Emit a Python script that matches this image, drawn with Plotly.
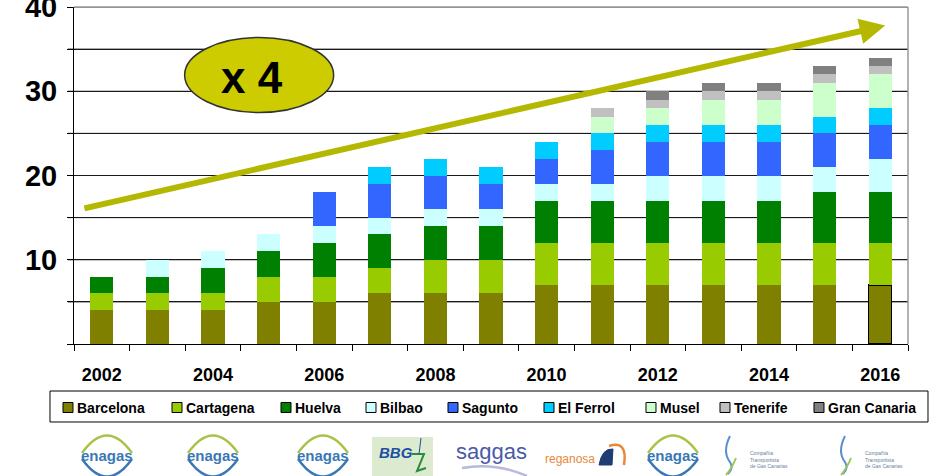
import plotly.graph_objects as go

# ---------------- data ----------------
years = [2002, 2003, 2004, 2005, 2006, 2007, 2008, 2009, 2010, 2011, 2012, 2013, 2014, 2015, 2016]
year_labels = ["2002", "", "2004", "", "2006", "", "2008", "", "2010", "", "2012", "", "2014", "", "2016"]

barcelona    = [4, 4, 4, 5, 5, 6, 6, 6, 7, 7, 7, 7, 7, 7, 7]
cartagena    = [2, 2, 2, 3, 3, 3, 4, 4, 5, 5, 5, 5, 5, 5, 5]
huelva       = [2, 2, 3, 3, 4, 4, 4, 4, 5, 5, 5, 5, 5, 6, 6]
bilbao       = [0, 2, 2, 2, 2, 2, 2, 2, 2, 2, 3, 3, 3, 3, 4]
sagunto      = [0, 0, 0, 0, 4, 4, 4, 3, 3, 4, 4, 4, 4, 4, 4]
el_ferrol    = [0, 0, 0, 0, 0, 2, 2, 2, 2, 2, 2, 2, 2, 2, 2]
musel        = [0, 0, 0, 0, 0, 0, 0, 0, 0, 2, 2, 3, 3, 4, 4]
tenerife     = [0, 0, 0, 0, 0, 0, 0, 0, 0, 1, 1, 1, 1, 1, 1]
gran_canaria = [0, 0, 0, 0, 0, 0, 0, 0, 0, 0, 1, 1, 1, 1, 1]

series_names = ["Barcelona", "Cartagena", "Huelva", "Bilbao", "Sagunto",
                "El Ferrol", "Musel", "Tenerife", "Gran Canaria"]
series_values = [barcelona, cartagena, huelva, bilbao, sagunto,
                 el_ferrol, musel, tenerife, gran_canaria]
series_colors = ["#808000", "#99CC00", "#008000", "#CCFFFF", "#3366FF",
                 "#00CCFF", "#CCFFCC", "#C0C0C0", "#808080"]

y_ticks = [0, 5, 10, 15, 20, 25, 30, 35, 40]
y_tick_text = ["", "", "10", "", "20", "", "30", "", "40"]

arrow_text = "x 4"
logo_names = ["enagas", "enagas", "enagas", "BBG", "saggas", "reganosa", "enagas",
              "Compañía<br>Transportista<br>de Gas Canarias", "Compañía<br>Transportista<br>de Gas Canarias"]

# ---------------- geometry helpers ----------------
FIG_W, FIG_H = 929, 476
L, R, T, B = 74, 21, 7, 132
PW = FIG_W - L - R
PH = FIG_H - T - B


def px(x):
    return round((x - L) / PW, 5)


def py(y):
    return round((FIG_H - B - y) / PH, 5)


FONT = "Arial, Liberation Sans, Helvetica, sans-serif"
GRID = "#1a1a1a"

fig = go.Figure()

for i, (name, vals, col) in enumerate(zip(series_names, series_values, series_colors)):
    lw = [0] * len(vals)
    if i == 0:
        lw[-1] = 1.5
    fig.add_trace(go.Bar(
        x=years, y=vals, name=name,
        marker=dict(color=col, line=dict(color="black", width=lw)),
        showlegend=False, hoverinfo="skip",
    ))

half = 0.5
boundaries = [y - half for y in years] + [years[-1] + half]
xr = [years[0] - half, years[-1] + half]

fig.update_layout(
    width=FIG_W, height=FIG_H,
    margin=dict(l=L, r=R, t=T, b=B, autoexpand=False),
    paper_bgcolor="white", plot_bgcolor="white",
    barmode="stack", bargap=0.586,
    font=dict(family=FONT, color="black"),
    xaxis=dict(range=xr, tickvals=years, ticktext=year_labels, ticks="",
               minor=dict(tickvals=boundaries, ticks="outside", ticklen=6,
                          tickcolor="black", tickwidth=1, showgrid=False),
               showgrid=False, zeroline=False, showline=True, linecolor="black", linewidth=1,
               tickfont=dict(size=18, family=FONT, color="black", weight="bold"),
               ticklabelstandoff=14, automargin=False, fixedrange=True),
    yaxis=dict(range=[0, 40], tickvals=y_ticks, ticktext=y_tick_text, ticks="outside",
               ticklen=6, tickcolor="black", tickwidth=1,
               showgrid=True, gridcolor=GRID, gridwidth=1, zeroline=False,
               showline=True, linecolor="black", linewidth=1,
               tickfont=dict(size=29, family=FONT, color="black", weight="bold"),
               ticklabelstandoff=4, ticklabeloverflow="allow",
               automargin=False, fixedrange=True),
    showlegend=False,
)

shapes = []
annotations = []

# gridlines / left ticks reinforced from the same tick list (drawn under the bars)
for v in y_ticks[1:]:
    shapes.append(dict(type="line", xref="paper", yref="y", x0=0, x1=1, y0=v, y1=v,
                       line=dict(color=GRID, width=1), layer="below"))
    shapes.append(dict(type="line", xref="paper", yref="y", x0=-6 / PW, x1=0, y0=v, y1=v,
                       line=dict(color="black", width=1)))

# grey plot border (top/right)
shapes.append(dict(type="line", xref="paper", yref="paper", x0=0, x1=1, y0=1, y1=1,
                   line=dict(color="#999999", width=1.5)))
shapes.append(dict(type="line", xref="paper", yref="paper", x0=1, x1=1, y0=0, y1=1,
                   line=dict(color="#999999", width=1.5)))

# ellipse with "x 4"
shapes.append(dict(type="circle", xref="x", yref="y", x0=2003.49, x1=2006.17, y0=27.48, y1=36.38,
                   fillcolor="#CCCC00", line=dict(color="#333333", width=1.5), layer="above"))
annotations.append(dict(x=2004.70, y=31.6, xref="x", yref="y", text=arrow_text, showarrow=False,
                        font=dict(size=44, family=FONT, color="black", weight="bold"),
                        xanchor="center", yanchor="middle"))

# growth arrow
annotations.append(dict(x=2016.09, y=37.8, ax=2001.66, ay=16.05, xref="x", yref="y",
                        axref="x", ayref="y", text="", showarrow=True, arrowhead=2,
                        arrowsize=0.85, arrowwidth=6, arrowcolor="#B4B800", standoff=0))

# ---------------- custom legend ----------------
shapes.append(dict(type="rect", xref="paper", yref="paper", x0=px(50), x1=px(928),
                   y0=py(422), y1=py(391), line=dict(color="black", width=1), fillcolor="white"))
swatch_left = [63, 172, 281, 366, 448, 544, 646, 720, 814]
for sx, name, col in zip(swatch_left, series_names, series_colors):
    shapes.append(dict(type="rect", xref="paper", yref="paper", x0=px(sx), x1=px(sx + 10),
                       y0=py(412.5), y1=py(402.5), fillcolor=col,
                       line=dict(color="black", width=1)))
    annotations.append(dict(x=px(sx + 12), y=py(407.5), xref="paper", yref="paper", text=name,
                            showarrow=False, xanchor="left", yanchor="middle",
                            font=dict(size=14, family=FONT, color="black", weight="bold")))

# ---------------- logos (approximated as text + strokes) ----------------
ENAGAS_BLUE = "#3A78B5"
ENAGAS_GREEN = "#A9C34A"


def enagas(cx, cy=456):
    shapes.append(dict(type="path", xref="paper", yref="paper",
                       path=f"M {px(cx-25)},{py(cy-3)} Q {px(cx)},{py(cy-38)} {px(cx+25)},{py(cy-3)}",
                       line=dict(color=ENAGAS_GREEN, width=2.5)))
    shapes.append(dict(type="path", xref="paper", yref="paper",
                       path=f"M {px(cx-25)},{py(cy+3)} Q {px(cx)},{py(cy+38)} {px(cx+25)},{py(cy+3)}",
                       line=dict(color=ENAGAS_BLUE, width=2.5)))
    annotations.append(dict(x=px(cx), y=py(cy - 1), xref="paper", yref="paper", text=logo_names[0],
                            showarrow=False, xanchor="center", yanchor="middle",
                            font=dict(size=15, family=FONT, color=ENAGAS_BLUE, weight="bold")))


for cx in [107, 213, 323, 673]:
    enagas(cx)

# BBG
shapes.append(dict(type="rect", xref="paper", yref="paper", x0=px(372), x1=px(433),
                   y0=py(476), y1=py(437), fillcolor="#DCEAD0", line=dict(width=0)))
annotations.append(dict(x=px(396), y=py(463), xref="paper", yref="paper", text="<i>" + logo_names[3] + "</i>",
                        showarrow=False, font=dict(size=15, family=FONT, color="#1D4FA3", weight="bold")))
shapes.append(dict(type="path", xref="paper", yref="paper",
                   path=f"M {px(412)},{py(454)} L {px(424)},{py(454)} L {px(417)},{py(471)} L {px(426)},{py(468)}",
                   line=dict(color="#2E8B3A", width=2)))
shapes.append(dict(type="line", xref="paper", yref="paper", x0=px(419), x1=px(421), y0=py(454), y1=py(438),
                   line=dict(color="#1D4FA3", width=1)))

# saggas
annotations.append(dict(x=px(491), y=py(452), xref="paper", yref="paper", text=logo_names[4],
                        showarrow=False, xanchor="center", yanchor="middle",
                        font=dict(size=22, family=FONT, color="#4A5AA8")))
shapes.append(dict(type="path", xref="paper", yref="paper",
                   path=f"M {px(462)},{py(468)} Q {px(495)},{py(462)} {px(527)},{py(476)}",
                   line=dict(color="#B8B8E0", width=2.5)))

# reganosa
annotations.append(dict(x=px(543), y=py(459), xref="paper", yref="paper", text=logo_names[5],
                        showarrow=False, xanchor="left", yanchor="middle",
                        font=dict(size=12, family=FONT, color="#E8893A")))
shapes.append(dict(type="path", xref="paper", yref="paper",
                   path=f"M {px(599)},{py(465)} Q {px(602)},{py(448)} {px(613)},{py(449)} L {px(612)},{py(465)} Z",
                   fillcolor="#1F3D73", line=dict(color="#1F3D73", width=1)))
shapes.append(dict(type="path", xref="paper", yref="paper",
                   path=f"M {px(609)},{py(446)} Q {px(628)},{py(440)} {px(624)},{py(465)}",
                   line=dict(color="#E8893A", width=2.5)))


# Compañía Transportista de Gas Canarias
def canarias(fx, label):
    shapes.append(dict(type="path", xref="paper", yref="paper",
                       path=f"M {px(fx)},{py(436)} Q {px(fx-8)},{py(452)} {px(fx)},{py(462)} Q {px(fx+4)},{py(468)} {px(fx-2)},{py(474)}",
                       line=dict(color="#5A8FD0", width=2)))
    shapes.append(dict(type="path", xref="paper", yref="paper",
                       path=f"M {px(fx+6)},{py(458)} Q {px(fx+2)},{py(468)} {px(fx-4)},{py(475)}",
                       line=dict(color="#9CC85A", width=2)))
    annotations.append(dict(x=px(fx + 18), y=py(460), xref="paper", yref="paper", text=label,
                            showarrow=False, xanchor="left", yanchor="middle", align="left",
                            font=dict(size=5, family=FONT, color="#6A7F9A")))


canarias(730, logo_names[7])
canarias(845, logo_names[8])

fig.update_layout(shapes=shapes, annotations=annotations)

fig.write_html("out.html", config={"displayModeBar": False},
               post_script="document.body.style.margin='0px';")
